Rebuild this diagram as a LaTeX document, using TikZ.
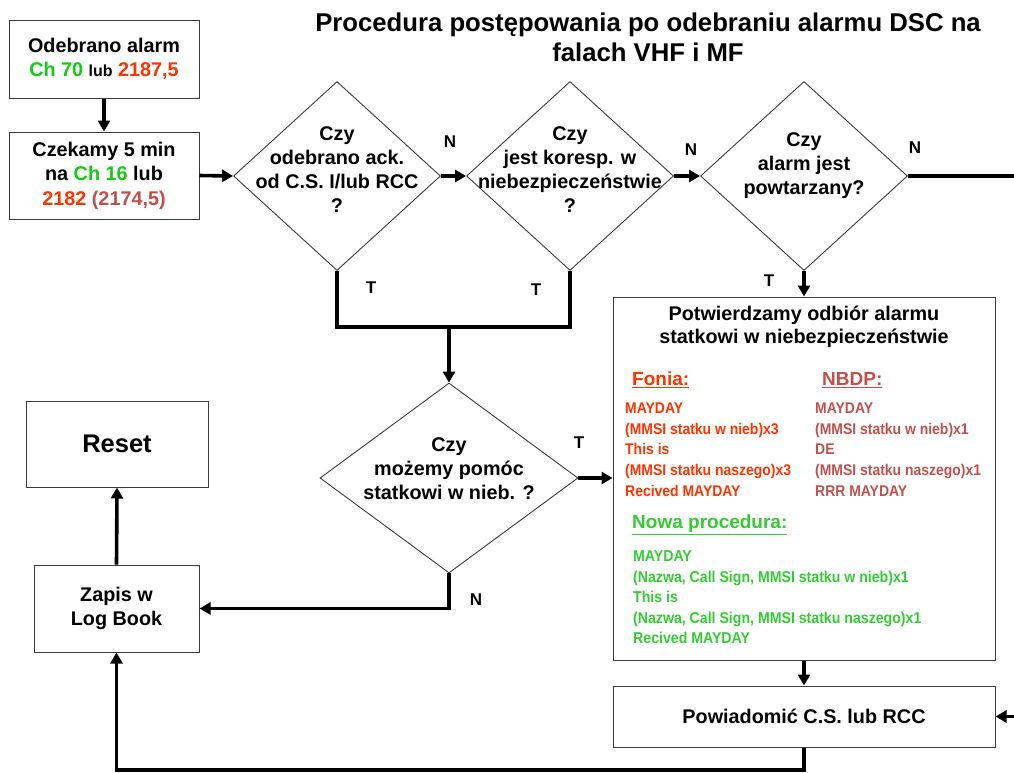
\documentclass[tikz,border=0pt]{standalone}
\usepackage{fontspec}
\setmainfont{Liberation Sans}
\newfontfamily\narrowbf{Liberation Sans Bold}[FakeStretch=0.9]
\usetikzlibrary{shapes.geometric,arrows.meta}
\definecolor{chgreen}{HTML}{11CC11}
\definecolor{chred}{HTML}{FF3300}
\definecolor{rosy}{HTML}{C0504D}
\definecolor{ngreen}{HTML}{33CC33}
\definecolor{frame}{HTML}{3A3A3A}
\begin{document}
\begin{tikzpicture}[x=1pt,y=-1pt,
  box/.style={draw=frame,line width=1pt,rectangle,inner sep=0pt,align=center,font=\fontsize{19.8}{24.5}\selectfont\bfseries},
  dia/.style={draw=frame,line width=0.9pt,diamond,inner sep=0pt},
  dtext/.style={align=center,font=\fontsize{19.8}{24}\selectfont\bfseries,inner sep=0pt},
  conn/.style={line width=3.6pt},
  arr/.style={conn,-{Triangle[length=11pt,width=12pt]}},
  lab/.style={font=\fontsize{17}{20}\selectfont\bfseries,inner sep=0pt},
  listtxt/.style={anchor=north west,align=left,inner sep=0pt,font=\narrowbf\fontsize{15.5}{20.7}\selectfont},
  head/.style={anchor=west,inner sep=0pt,font=\fontsize{19}{22}\selectfont\bfseries},
]
\useasboundingbox (0,0) rectangle (1014,772);

% title
\node[align=center,font=\fontsize{25.7}{30}\selectfont\bfseries] (title) at (648,37)
  {Procedura postępowania po odebraniu alarmu DSC na\\falach VHF i MF};

% boxes
\node[box,minimum width=190pt,minimum height=78pt] (b1) at (104,59)
  {Odebrano alarm\\{\color{chgreen}Ch 70} {\fontsize{16}{24}\selectfont lub} {\color{chred}2187,5}};
\node[box,minimum width=190pt,minimum height=87pt] (b2) at (104,175.5)
  {Czekamy 5 min\\na {\color{chgreen}Ch 16} lub\\{\color{chred}2182} {\color{rosy}(2174,5)}};

% diamonds
\node[dia,minimum width=207pt,minimum height=189pt] (d1) at (337,176) {};
\node[dtext] (d1t) at (337,170) {Czy\\odebrano ack.\\od C.S. I/lub RCC\\?};
\node[dia,minimum width=207pt,minimum height=189pt] (d2) at (570,176) {};
\node[dtext] (d2t) at (570,170) {Czy\\jest koresp. w\\niebezpieczeństwie\\?};
\node[dia,minimum width=207pt,minimum height=189pt] (d3) at (804,176) {};
\node[dtext] (d3t) at (804,166) {Czy\\alarm jest\\powtarzany?};
\node[dia,minimum width=258pt,minimum height=190pt] (d4) at (449,478) {};
\node[dtext] (d4t) at (449,469) {Czy\\możemy pomóc\\statkowi w nieb. ?};

% left boxes
\node[box,minimum width=182pt,minimum height=86pt,font=\fontsize{25.5}{30}\selectfont\bfseries] (reset) at (117,444) {Reset};
\node[box,minimum width=165pt,minimum height=87pt] (zapis) at (116.5,608.5) {Zapis w\\Log Book};

% big box
\node[box,minimum width=382pt,minimum height=363pt] (pot) at (804,478.5) {};
\node[align=center,inner sep=0pt,font=\fontsize{19.8}{23}\selectfont\bfseries] (pott) at (804,327)
  {Potwierdzamy odbiór alarmu\\statkowi w niebezpieczeństwie};
\node[head,text=chred] (fonia) at (632,380) {\underline{Fonia:}};
\node[head,text=rosy] (nbdp) at (822,380) {\underline{NBDP:}};
\node[listtxt,text=chred] (fl) at (625,402.5)
  {MAYDAY\\(MMSI statku w nieb)x3\\This is\\(MMSI statku naszego)x3\\Recived MAYDAY};
\node[listtxt,text=rosy] (nl) at (815,402.5)
  {MAYDAY\\(MMSI statku w nieb)x1\\DE\\(MMSI statku naszego)x1\\RRR MAYDAY};
\node[head,text=ngreen] (nowa) at (632,525) {\underline{Nowa procedura:}};
\node[listtxt,text=ngreen,font=\narrowbf\fontsize{15.7}{20.5}\selectfont] (gl) at (633,550.5)
  {MAYDAY\\(Nazwa, Call Sign, MMSI statku w nieb)x1\\This is\\(Nazwa, Call Sign, MMSI statku naszego)x1\\Recived MAYDAY};

\node[box,minimum width=382pt,minimum height=61pt] (pow) at (804,716.5) {Powiadomić C.S. lub RCC};

% labels
\node[lab] (n1) at (450,142) {N};
\node[lab] (n2) at (691,150) {N};
\node[lab] (n3) at (915,148) {N};
\node[lab] (t1) at (371,288) {T};
\node[lab] (t2) at (536,290) {T};
\node[lab] (t3) at (769,281) {T};
\node[lab] (t4) at (579,443) {T};
\node[lab] (n4) at (476,600) {N};

% coordinates
\coordinate (rightend) at (1014,176);
\coordinate (join) at (449,327);
\coordinate (rin) at (1014,716.5);
\coordinate (bot) at (804,770);

% connectors
\draw[arr] (b1) -- (b2);
\draw[arr] (b2.east) -- (d1.west);
\draw[arr] (d1.east) -- (d2.west);
\draw[arr] (d2.east) -- (d3.west);
\draw[conn] (d3.east) -- (rightend);
\draw[arr] (d3.south) -- (pot.north);
\draw[conn] (d1.south) |- (join) -| (d2.south);
\draw[arr] (join) -- (d4.north);
\draw[arr] (d4.east) -- (d4.east -| pot.west);
\draw[arr] (d4.south) |- (zapis.east);
\draw[arr] (zapis.north) -- (reset.south);
\draw[arr] (pot.south) -- (pow.north);
\draw[arr] (rin) -- (pow.east);
\draw[arr] (pow.south) -- (bot) -| (zapis.south);
\end{tikzpicture}
\end{document}
